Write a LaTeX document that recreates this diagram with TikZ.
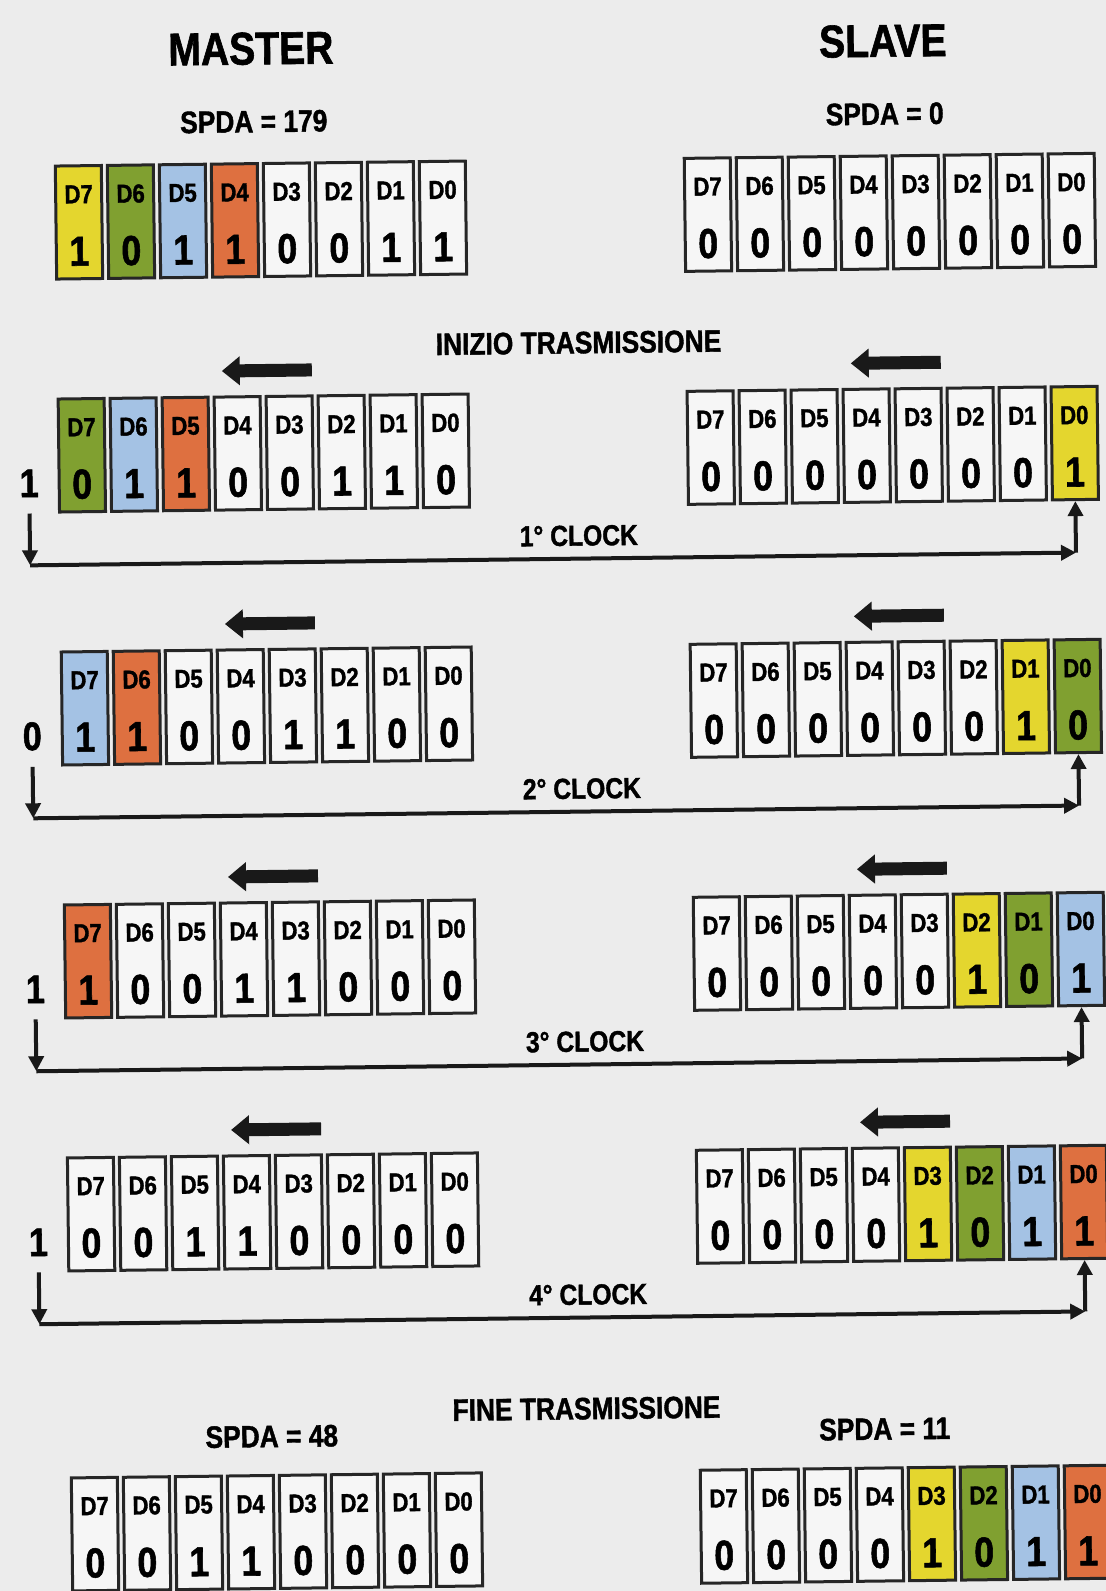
\documentclass[tikz,border=0pt]{standalone}
\usepackage{fontspec}
\setmainfont{Liberation Sans}[FakeStretch=0.85, BoldFeatures={FakeBold=1.3}]
\usetikzlibrary{arrows.meta}

\definecolor{paper}{RGB}{236,236,236}
\definecolor{wht}{RGB}{246,246,246}
\definecolor{yel}{RGB}{228,214,46}
\definecolor{grn}{RGB}{128,160,48}
\definecolor{blu}{RGB}{164,194,228}
\definecolor{org}{RGB}{222,112,64}

\tikzset{
    bitbox/.style={draw=black!85, line width=1.5pt, minimum width=23pt, minimum height=56.5pt, inner sep=0pt},
    bitname/.style={inner sep=0pt, font=\fontsize{13}{13}\selectfont\bfseries},
    bitval/.style={inner sep=0pt, font=\fontsize{21}{22}\selectfont\bfseries},
    bitout/.style={inner sep=0pt, font=\fontsize{20}{20}\selectfont\bfseries},
    title/.style={inner sep=0pt, font=\fontsize{23}{24}\selectfont\bfseries},
    spda/.style={inner sep=0pt, font=\fontsize{15.5}{16}\selectfont\bfseries},
    phase/.style={inner sep=0pt, font=\fontsize{15.5}{16}\selectfont\bfseries},
    clocklabel/.style={inner sep=0pt, font=\fontsize{14.5}{15}\selectfont\bfseries},
    clk/.style={line width=2pt, draw=black!90, -{Triangle[length=7.5pt,width=7.5pt]}},
    shiftarrow/.style={line width=6.5pt, draw=black!90, -{Triangle[length=9pt,width=14pt]}},
}

% one shift register: name, left x, top y, bits D7..D0 as value/colour
\newcommand{\register}[4]{%
    \foreach \bit/\col [count=\i from 0] in {#4} {
        \pgfmathtruncatemacro{\n}{7-\i}
        \node[bitbox, fill=\col] (#1-\n) at ({#2+23+52*\i}, {#3+56.5}) {};
        \node[bitname] (#1-\n-name) at ([yshift=-15pt]#1-\n.north) {D\n};
        \node[bitval] (#1-\n-val) at ([yshift=14.5pt]#1-\n.south) {\bit};
    }
}

\begin{document}
\begin{tikzpicture}[x=0.5pt, y=-0.5pt]
    \fill[paper] (0,0) rectangle (1106,1591);
    \useasboundingbox (0,0) rectangle (1106,1591);
    \begin{scope}[rotate around={0.7:(553,795)}, transform shape]
    % Headings
    \node[title] (master) at (260,45) {MASTER};
    \node[title] (slave) at (892,45) {SLAVE};
    \node[spda] (mspda0) at (262,118) {SPDA = 179};
    \node[spda] (sspda0) at (893,118) {SPDA = 0};
    % Start state
    \register{m0}{63}{160}{1/yel,0/grn,1/blu,1/org,0/wht,0/wht,1/wht,1/wht}
    \register{s0}{692}{160}{0/wht,0/wht,0/wht,0/wht,0/wht,0/wht,0/wht,0/wht}
    \node[phase] (start) at (584,343) {INIZIO TRASMISSIONE};
    % 1st clock
    \register{m1}{63}{393}{0/grn,1/blu,1/org,0/wht,0/wht,1/wht,1/wht,0/wht}
    \register{s1}{692}{393}{0/wht,0/wht,0/wht,0/wht,0/wht,0/wht,0/wht,1/yel}
    % 2nd clock
    \register{m2}{63}{646}{1/blu,1/org,0/wht,0/wht,1/wht,1/wht,0/wht,0/wht}
    \register{s2}{692}{646}{0/wht,0/wht,0/wht,0/wht,0/wht,0/wht,1/yel,0/grn}
    % 3rd clock
    \register{m3}{63}{899}{1/org,0/wht,0/wht,1/wht,1/wht,0/wht,0/wht,0/wht}
    \register{s3}{692}{899}{0/wht,0/wht,0/wht,0/wht,0/wht,1/yel,0/grn,1/blu}
    % 4th clock
    \register{m4}{63}{1152}{0/wht,0/wht,1/wht,1/wht,0/wht,0/wht,0/wht,0/wht}
    \register{s4}{692}{1152}{0/wht,0/wht,0/wht,0/wht,1/yel,0/grn,1/blu,1/org}
    % Shift arrows, bit out and clock line
    \foreach \k/\t/\b in {1/393/1, 2/646/0, 3/899/1, 4/1152/1} {
        \draw[shiftarrow] (317,\t-26) -- (227,\t-26);
        \draw[shiftarrow] (946,\t-26) -- (856,\t-26);
        \node[bitout] (out\k) at (33,\t+84) {\b};
        \coordinate (c\k l) at (33,\t+166);
        \coordinate (c\k r) at (1079,\t+166);
        \node[clocklabel] (clk\k) at (582,\t+143) {\k° CLOCK};
        \draw[clk, shorten <=8pt] (out\k) -- (c\k l);
        \draw[clk] (c\k l) -- (c\k r);
        \draw[clk] (c\k r) -- (s\k-0);
    }
    % End state
    \node[phase] (end) at (579,1409) {FINE TRASMISSIONE};
    \node[spda] (mspda5) at (264,1433) {SPDA = 48};
    \node[spda] (sspda5) at (877,1433) {SPDA = 11};
    \register{m5}{63}{1472}{0/wht,0/wht,1/wht,1/wht,0/wht,0/wht,0/wht,0/wht}
    \register{s5}{692}{1472}{0/wht,0/wht,0/wht,0/wht,1/yel,0/grn,1/blu,1/org}
    \end{scope}
\end{tikzpicture}
\end{document}
